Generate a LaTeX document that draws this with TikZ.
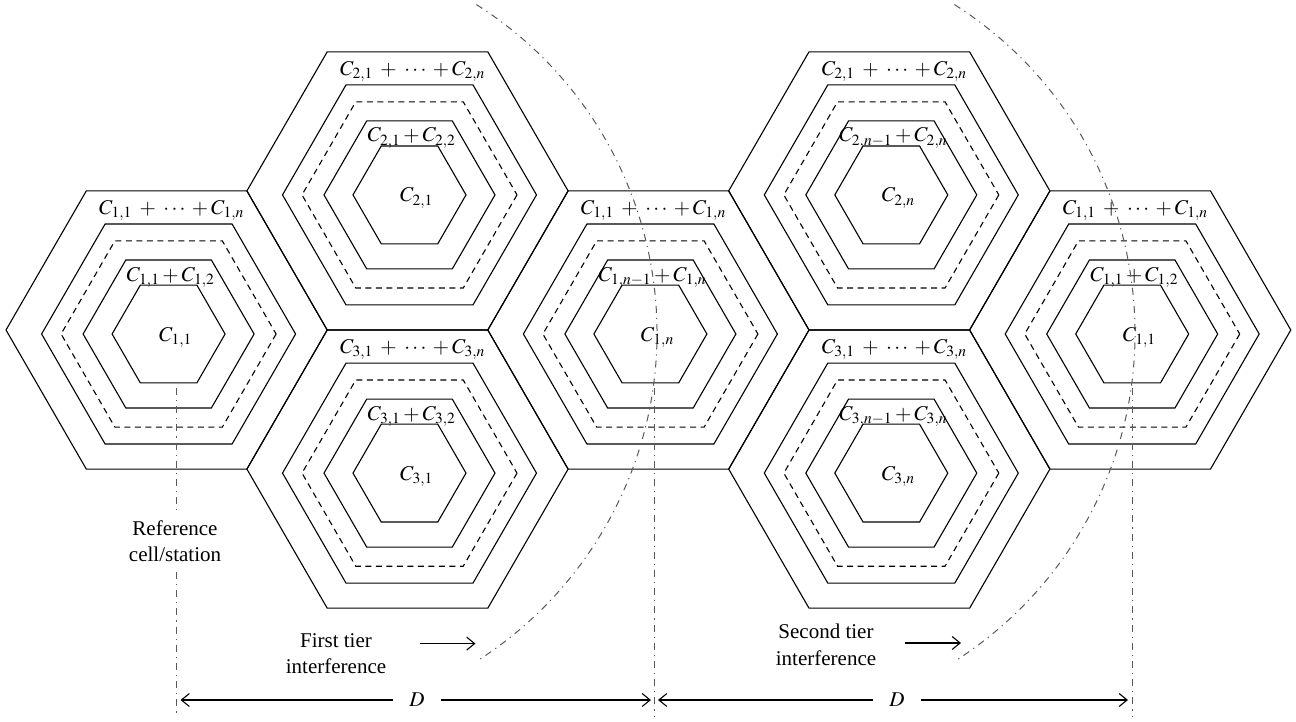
\documentclass[tikz,border=0pt]{standalone}
\usepackage{mathptmx}
\usepackage{fontspec}
\setmainfont{Liberation Serif}
\usetikzlibrary{arrows.meta}
\tikzset{
  hexline/.style={line width=1.1pt, black},
  hexdash/.style={line width=1.1pt, black, dash pattern=on 6pt off 4.5pt},
  ddot/.style={line width=1pt, black!65, dash pattern=on 7pt off 5pt on 1.2pt off 5pt},
  lbl/.style={inner sep=0pt, anchor=base, font=\fontsize{21}{25}\selectfont},
  txt/.style={inner sep=0pt, align=center, font=\fontsize{21}{26}\selectfont},
  dimlbl/.style={inner ysep=0pt, inner xsep=16pt, font=\fontsize{21}{25}\selectfont},
  arr/.style={line width=1.1pt, -{Straight Barb[length=8pt,width=13pt]}},
}
\newcommand\hexring[3]{\draw[#1,shift={#2}] (0:#3) -- (60:#3) -- (120:#3) -- (180:#3) -- (240:#3) -- (300:#3) -- cycle;}
\newcommand\sumlbl[2]{C_{#1}\mkern4mu+\mkern4mu\cdots\mkern3mu+C_{#2}}
\newcommand\pairlbl[2]{C_{#1}+C_{#2}}
\newcommand\hexcell[6]{%
  \coordinate (#3) at (#1,#2);
  \hexring{hexline}{(#1,#2)}{160.6}
  \hexring{hexline}{(#1+2,#2+4)}{127}
  \hexring{hexdash}{(#1+2,#2+4)}{107.5}
  \hexring{hexline}{(#1+2,#2+4)}{85.5}
  \hexring{hexline}{(#1+2,#2+4)}{56.5}
  \node[lbl] (#3-out) at (#1+5,#2-115.5) {$#4$};
  \node[lbl] (#3-in) at (#1+4,#2-49) {$#5$};
  \node[lbl] (#3-c) at (#1+9,#2+11) {$#6$};
}
\begin{document}
\begin{tikzpicture}[x=1pt,y=-1pt]
\useasboundingbox (0,0) rectangle (1296,722);

\hexcell{166.6}{330}{c11}{\sumlbl{1,1}{1,n}}{\pairlbl{1,1}{1,2}}{C_{1,1}}
\hexcell{407.5}{190.9}{c21}{\sumlbl{2,1}{2,n}}{\pairlbl{2,1}{2,2}}{C_{2,1}}
\hexcell{407.5}{469.1}{c31}{\sumlbl{3,1}{3,n}}{\pairlbl{3,1}{3,2}}{C_{3,1}}
\hexcell{648.4}{330}{c1n}{\sumlbl{1,1}{1,n}}{\pairlbl{1,n-1}{1,n}}{C_{1,n}}
\hexcell{889.3}{190.9}{c2n}{\sumlbl{2,1}{2,n}}{\pairlbl{2,n-1}{2,n}}{C_{2,n}}
\hexcell{889.3}{469.1}{c3n}{\sumlbl{3,1}{3,n}}{\pairlbl{3,n-1}{3,n}}{C_{3,n}}
\hexcell{1130.2}{330}{c11r}{\sumlbl{1,1}{1,n}}{\pairlbl{1,1}{1,2}}{C_{1,1}}

% interference arcs
\coordinate (arc1) at (268,333);
\coordinate (arc2) at (746,333);
\draw[ddot] (arc1) ++(-57.6:389) arc[start angle=-57.6, end angle=57.6, radius=389];
\draw[ddot] (arc2) ++(-57.6:389) arc[start angle=-57.6, end angle=57.6, radius=389];

% reference text and vertical lines
\node[txt] (ref) at (175,541) {Reference\\cell/station};
\coordinate (v1a) at (176,388);
\coordinate (v1b) at (176,510);
\coordinate (v1c) at (176,572);
\coordinate (v1d) at (176,716);
\draw[ddot] (v1a) -- (v1b);
\draw[ddot] (v1c) -- (v1d);
\coordinate (v2a) at (654.5,388);
\coordinate (v2d) at (654.5,716);
\draw[ddot] (v2a) -- (v2d);
\coordinate (v3a) at (1132,388);
\coordinate (v3d) at (1132,716);
\draw[ddot] (v3a) -- (v3d);

% tier labels
\node[txt] (t1) at (336,654) {First tier\\interference};
\coordinate (t1s) at (420,643.6);
\coordinate (t1e) at (475.5,643.6);
\draw[arr] (t1s) -- (t1e);
\node[txt] (t2) at (826,645) {Second tier\\[1.5pt]interference};
\coordinate (t2s) at (905,643);
\coordinate (t2e) at (961,643);
\draw[arr] (t2s) -- (t2e);

% distance D
\node[dimlbl] (D1) at (417,700) {$D$};
\coordinate (d1l) at (180.5,700);
\coordinate (d1r) at (651,700);
\draw[arr] (D1.west) -- (d1l);
\draw[arr] (D1.east) -- (d1r);
\node[dimlbl] (D2) at (897,700) {$D$};
\coordinate (d2l) at (658,700);
\coordinate (d2r) at (1128,700);
\draw[arr] (D2.west) -- (d2l);
\draw[arr] (D2.east) -- (d2r);
\end{tikzpicture}
\end{document}
